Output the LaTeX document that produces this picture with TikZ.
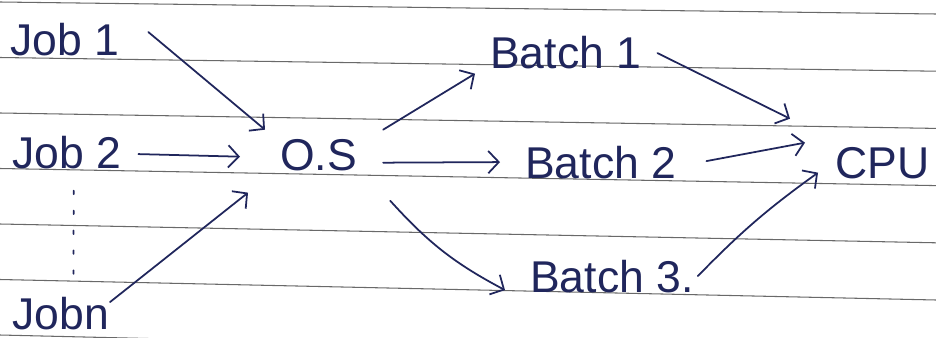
\documentclass[tikz,border=0pt]{standalone}
\usepackage{fontspec}
\setmainfont{Liberation Sans}
\usepackage{tikz}
\usetikzlibrary{arrows.meta}
\definecolor{ink}{RGB}{32,38,92}
\definecolor{rulegrey}{RGB}{105,105,105}
\tikzstyle{hand} = [text=ink, font=\fontsize{38}{40}\selectfont, inner sep=0pt, anchor=base west]
\tikzstyle{inkarrow} = [draw=ink, line width=1.5pt, line cap=round,
    -{Straight Barb[length=9pt, width=19pt, line width=1.5pt]}]
\tikzstyle{ruling} = [draw=rulegrey, line width=0.9pt]

\begin{document}
\begin{tikzpicture}[x=0.03cm, y=-0.03cm]
\useasboundingbox (0,0) rectangle (936,337);
\fill[white] (0,0) rectangle (936,337);
\foreach \k in {0,...,6}
    \draw[ruling] (0,{2+55.5*\k}) -- (936,{14+57.2*\k});

\node[hand] (job1) at (10,55) {Job 1};
\node[hand] (job2) at (12,168) {Job 2};
\node[hand] (jobn) at (12,329) {Jobn};
\node[hand] (os) at (280,170) {O.S};
\node[hand] (batch1) at (490,68) {Batch 1};
\node[hand] (batch2) at (525,178) {Batch 2};
\node[hand] (batch3) at (530,292) {Batch 3.};
\node[hand] (cpu) at (835,178) {CPU};

\draw[inkarrow] ([shift={(29,-7)}]job1.east) -- ([shift={(-15,-9)}]os.north west);
\draw[inkarrow] ([shift={(17,2)}]job2.east) -- ([shift={(-40,2)}]os.west);
\draw[inkarrow] ([shift={(1,-11)}]jobn.east) -- ([shift={(-32,22)}]os.south west);
\draw[draw=ink, line width=1.5pt, line cap=round, dash pattern=on 3pt off 14pt]
    ([shift={(7,22)}]job2.south) -- ([shift={(13,-9)}]jobn.north);

\draw[inkarrow] ([shift={(26,-9)}]os.north east) -- ([shift={(-15,5)}]batch1.south west);
\draw[inkarrow] ([shift={(26,8)}]os.east) -- ([shift={(-25,0)}]batch2.west);
\draw[inkarrow] ([shift={(33,30)}]os.south east) to[bend right=10] ([shift={(-25,14)}]batch3.west);

\draw[inkarrow] ([shift={(16,1)}]batch1.east) -- ([shift={(-45,-28)}]cpu.north west);
\draw[inkarrow] ([shift={(30,-1)}]batch2.east) -- ([shift={(-30,-20)}]cpu.west);
\draw[inkarrow] ([shift={(4,0)}]batch3.east) to[bend left=5] ([shift={(-17,-6)}]cpu.south west);
\end{tikzpicture}
\end{document}
